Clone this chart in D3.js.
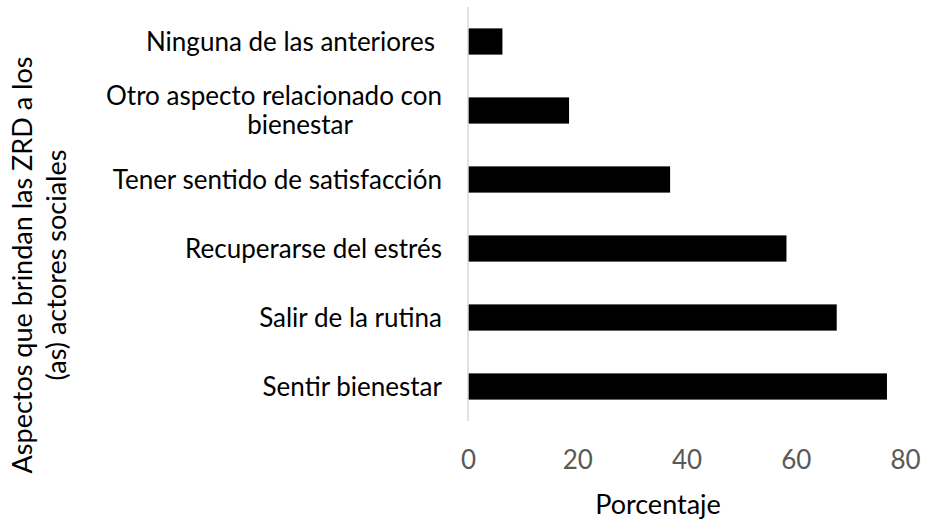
<!DOCTYPE html>
<html>
<head>
<meta charset="UTF-8">
<title>Aspectos ZRD</title>
<script src="https://cdnjs.cloudflare.com/ajax/libs/d3/7.8.5/d3.min.js"></script>
<style>
	body { margin: 0; background: #fff; }
	text { font-family: Lato, "Open Sans", sans-serif; }
	.cat { font-size: 26px; fill: #000; }
	.tick text { font-size: 26px; fill: #595959; }
</style>
</head>
<body>
<div id="chart"></div>
<script>

	// categories, top to bottom as drawn
	var categories = [
		"Ninguna de las anteriores",
		"Otro aspecto relacionado con bienestar",
		"Tener sentido de satisfacción",
		"Recuperarse del estrés",
		"Salir de la rutina",
		"Sentir bienestar"
	];
	var percentages = [6.3, 18.5, 37.0, 58.3, 67.5, 76.7];
	var xTicks = [0, 20, 40, 60, 80];
	var xTitle = "Porcentaje";
	var yTitle = ["Aspectos que brindan las ZRD a los", "(as) actores sociales"];

	var width = 926, height = 525;

	var svg = d3.select("#chart").append("svg")
		.attr("width", width)
		.attr("height", height);

	var x = d3.scaleLinear()
		.domain([0, 80])
		.range([468, 905]);

	var y = d3.scaleBand()
		.domain(categories)
		.range([7, 421])
		.paddingInner(0.62)
		.paddingOuter(0.31);

	// bars
	svg.append("g").selectAll("rect")
		.data(categories)
		.enter().append("rect")
		.attr("x", x(0))
		.attr("y", function(d) { return y(d); })
		.attr("width", function(d, i) { return x(percentages[i]) - x(0); })
		.attr("height", y.bandwidth())
		.attr("fill", "#000");

	// vertical axis line
	svg.append("line")
		.attr("x1", x(0)).attr("x2", x(0))
		.attr("y1", 7).attr("y2", 421)
		.attr("stroke", "#d9d9d9")
		.attr("stroke-width", 1.5);

	// x axis labels
	var xAxis = d3.axisBottom(x)
		.tickValues(xTicks)
		.tickSize(0)
		.tickPadding(0);

	var gx = svg.append("g")
		.attr("transform", "translate(0,469)")
		.call(xAxis);
	gx.select(".domain").remove();
	gx.selectAll("text").attr("dy", "0");

	// category labels, wrapped when too long
	var labelRight = 442, maxW = 400, lineH = 29;
	var labels = svg.append("g");
	categories.forEach(function(c, i) {
		var cy = y(c) + y.bandwidth() / 2;
		var t = labels.append("text").attr("class", "cat").text(c);
		if (t.node().getComputedTextLength() <= maxW) {
			// first label carries a trailing space in the original
			t.attr("x", labelRight - (i === 0 ? 7 : 0)).attr("y", cy)
				.attr("dy", "0.35em")
				.attr("text-anchor", "end");
			return;
		}
		t.remove();
		var words = c.split(" "), lines = [], cur = [];
		var probe = labels.append("text").attr("class", "cat");
		words.forEach(function(w) {
			cur.push(w);
			probe.text(cur.join(" "));
			if (probe.node().getComputedTextLength() > maxW && cur.length > 1) {
				cur.pop();
				lines.push(cur.join(" "));
				cur = [w];
			}
		});
		lines.push(cur.join(" "));
		var widest = 0;
		lines.forEach(function(l) {
			probe.text(l);
			widest = Math.max(widest, probe.node().getComputedTextLength());
		});
		probe.remove();
		var cx = labelRight - widest / 2;
		lines.forEach(function(l, k) {
			labels.append("text").attr("class", "cat")
				.attr("x", cx + (k > 0 ? 26 : 0))
				.attr("y", cy + (k - (lines.length - 1) / 2) * lineH)
				.attr("dy", "0.35em")
				.attr("text-anchor", "middle")
				.text(l);
		});
	});

	// axis titles
	svg.append("text")
		.attr("x", 658).attr("y", 514)
		.attr("text-anchor", "middle")
		.style("font-size", "27px")
		.text(xTitle);

	var yt = svg.append("text")
		.attr("transform", "translate(0,265) rotate(-90)")
		.attr("text-anchor", "middle")
		.style("font-size", "27px");
	yTitle.forEach(function(l, k) {
		yt.append("tspan")
			.attr("x", 0)
			.attr("y", 32 + k * 34)
			.text(l);
	});

</script>
</body>
</html>
